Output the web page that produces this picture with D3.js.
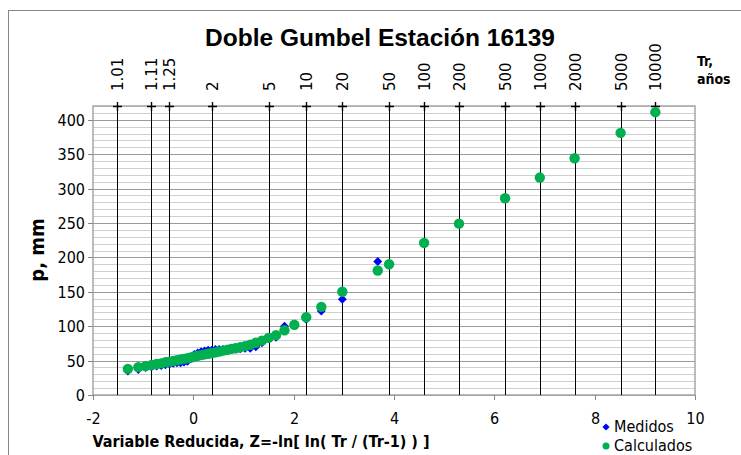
<!DOCTYPE html>
<html>
<head>
<meta charset="utf-8">
<script src="https://cdn.jsdelivr.net/npm/d3@7"></script>
<style>
  body { margin: 0; background: #fff; }
  svg { display: block; }
</style>
</head>
<body>
<div id="chart"></div>
<script>
// periodos de retorno marcados arriba
var trLabels = ["1.01", "1.11", "1.25", "2", "5", "10", "20", "50", "100", "200", "500", "1000", "2000", "5000", "10000"];

// variable reducida de los datos medidos (posiciones de graficacion)
var zMed = [-1.305, -1.097, -0.952, -0.834, -0.732, -0.640, -0.556, -0.476, -0.400, -0.327,
            -0.255, -0.186, -0.117, -0.049, 0.019, 0.087, 0.156, 0.225, 0.295, 0.367,
            0.439, 0.514, 0.592, 0.672, 0.755, 0.842, 0.934, 1.031, 1.135, 1.246,
            1.367, 1.500, 1.648, 1.817, 2.013, 2.250, 2.551, 2.970, 3.676];
var medidos = [35, 37, 40, 41, 42, 43, 44, 45, 46, 47,
               47, 48, 49, 53, 59, 61, 63, 64, 65, 65,
               66, 66, 66, 67, 67, 67, 67, 68, 68, 70,
               76, 82, 84, 100, 101, 110, 122, 139, 194];

// calculados: mismas Z y luego los periodos de retorno de diseno
var zCalc = zMed.concat([3.902, 4.600, 5.296, 6.214, 6.907, 7.600, 8.517, 9.210]);
var calculados = [38, 40.5, 42, 43.5, 45, 46, 47.5, 48.5, 49.5, 50.5,
                  51.5, 52.5, 53.5, 54.5, 56, 57, 58, 59, 60, 61,
                  62, 63, 64.5, 65.5, 67, 68, 69.5, 71, 73, 76,
                  79, 83, 87, 94, 102, 113, 128, 150, 181,
                  190, 221, 249, 286, 316, 344, 381, 411];

var W = 741, H = 455;
var x0 = 93, x1 = 695, y0 = 395, y1 = 106;
var fnt = "DejaVu Sans Condensed";

var svg = d3.select("#chart").append("svg").attr("width", W).attr("height", H);

var x = d3.scaleLinear().domain([-2, 10]).range([x0, x1]);
var y = d3.scaleLinear().domain([0, 420]).range([y0, y1]);

// marco del grafico
svg.append("rect").attr("x", 8.5).attr("y", 10.5).attr("width", 740).attr("height", 460)
  .attr("fill", "none").attr("stroke", "#868686");

// lineas de division horizontales
var grid = d3.range(0, 421, 10);
svg.append("g").selectAll("line").data(grid).enter().append("line")
  .attr("x1", x0).attr("x2", x1)
  .attr("y1", function(d) { return Math.round(y(d)) + 0.5; })
  .attr("y2", function(d) { return Math.round(y(d)) + 0.5; })
  .attr("stroke", function(d) { return d % 50 == 0 ? "#9a9a9a" : "#cfcfcf"; })
  .attr("stroke-width", 1);

// borde del area
svg.append("rect").attr("x", x0).attr("y", y1).attr("width", x1 - x0).attr("height", y0 - y1)
  .attr("fill", "none").attr("stroke", "#a6a6a6").attr("stroke-width", 1.5);

// lineas verticales por periodo de retorno
function zOf(tr) { return -Math.log(Math.log(tr / (tr - 1))); }
var trg = svg.append("g");
trLabels.forEach(function(t) {
  var px = Math.round(x(zOf(+t))) + 0.5;
  trg.append("line").attr("x1", px).attr("x2", px).attr("y1", y1).attr("y2", y0)
    .attr("stroke", "#000").attr("stroke-width", 1);
  trg.append("path").attr("d", "M" + (px - 4.5) + "," + (y1 + 0.5) + "h9M" + px + "," + (y1 - 4) + "v9")
    .attr("stroke", "#000").attr("stroke-width", 1.4);
  trg.append("text").attr("transform", "translate(" + (px + 5.5) + "," + 91 + ") rotate(-90)")
    .attr("font-family", "DejaVu Sans").attr("font-size", 15).text(t);
});

// eje y
var ya = svg.append("g");
d3.range(0, 401, 50).forEach(function(v) {
  var py = Math.round(y(v)) + 0.5;
  ya.append("line").attr("x1", x0 - 5).attr("x2", x0).attr("y1", py).attr("y2", py).attr("stroke", "#868686");
  ya.append("text").attr("x", 85).attr("y", py + 5.5).attr("text-anchor", "end")
    .attr("font-family", fnt).attr("font-size", 16).text(v);
});

// eje x
var xa = svg.append("g");
d3.range(-2, 11, 2).forEach(function(v) {
  var px = Math.round(x(v)) + 0.5;
  xa.append("line").attr("x1", px).attr("x2", px).attr("y1", y0).attr("y2", y0 + 5).attr("stroke", "#868686");
  xa.append("text").attr("x", px).attr("y", 424).attr("text-anchor", "middle")
    .attr("font-family", fnt).attr("font-size", 16).text(v);
});

// puntos medidos (rombos)
var diamond = d3.symbol().type(d3.symbolSquare).size(40);
svg.append("g").selectAll("path").data(zMed).enter().append("path")
  .attr("d", diamond)
  .attr("transform", function(d, i) { return "translate(" + x(d) + "," + y(medidos[i]) + ") rotate(45)"; })
  .attr("fill", "#0000ff");

// puntos calculados
svg.append("g").selectAll("circle").data(zCalc).enter().append("circle")
  .attr("cx", function(d) { return x(d); })
  .attr("cy", function(d, i) { return y(calculados[i]); })
  .attr("r", 5.2)
  .attr("fill", "#00b050");

// titulo y etiquetas
svg.append("text").attr("x", 380).attr("y", 46).attr("text-anchor", "middle")
  .attr("font-family", "Liberation Sans").attr("font-weight", "bold").attr("font-size", 24.5)
  .text("Doble Gumbel Estación 16139");

svg.append("text").attr("x", 697).attr("y", 66)
  .attr("font-family", fnt).attr("font-weight", "bold").attr("font-size", 14).text("Tr,");
svg.append("text").attr("x", 697).attr("y", 84)
  .attr("font-family", fnt).attr("font-weight", "bold").attr("font-size", 14).text("años");

svg.append("text").attr("transform", "translate(44,250) rotate(-90)").attr("text-anchor", "middle")
  .attr("font-family", fnt).attr("font-weight", "bold").attr("font-size", 20)
  .text("p, mm");

svg.append("text").attr("x", 261).attr("y", 447).attr("text-anchor", "middle")
  .attr("font-family", fnt).attr("font-weight", "bold").attr("font-size", 16)
  .text("Variable Reducida, Z=-ln[ ln( Tr / (Tr-1) ) ]");

// leyenda
var lg = svg.append("g");
lg.append("path").attr("d", d3.symbol().type(d3.symbolSquare).size(26))
  .attr("transform", "translate(606,427) rotate(45)").attr("fill", "#0000ff");
lg.append("text").attr("x", 614).attr("y", 432)
  .attr("font-family", fnt).attr("font-size", 16).text("Medidos");
lg.append("circle").attr("cx", 606).attr("cy", 446).attr("r", 3.5).attr("fill", "#00b050");
lg.append("text").attr("x", 614).attr("y", 451)
  .attr("font-family", fnt).attr("font-size", 16).text("Calculados");
</script>
</body>
</html>
